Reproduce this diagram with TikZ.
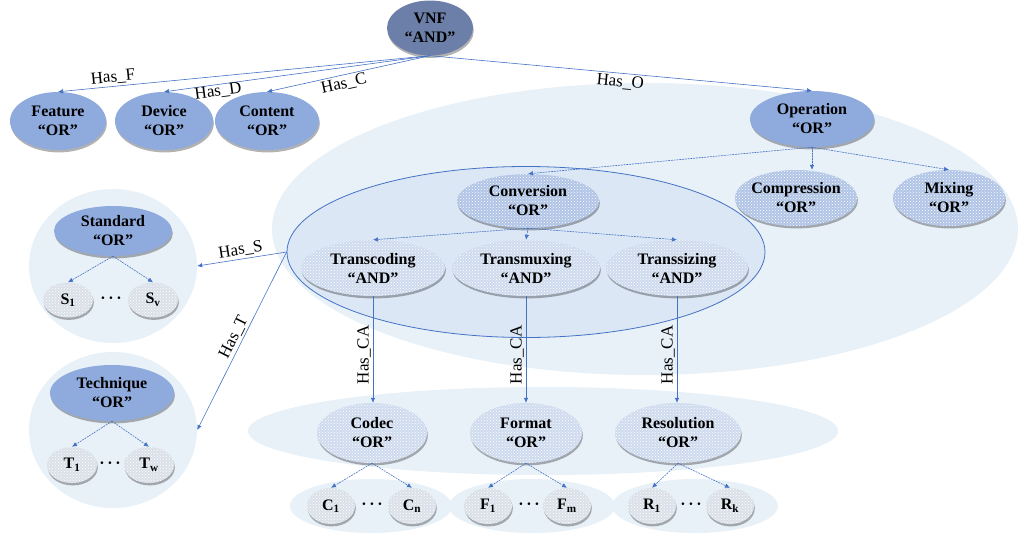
\documentclass[tikz,border=0pt]{standalone}
\usepackage{fontspec}
\setmainfont{Liberation Serif}
\usetikzlibrary{shapes.geometric,arrows.meta,shadows,patterns,positioning}

\begin{document}
\begin{tikzpicture}[x=1pt, y=-1pt, line join=round, line cap=round,
  wh/.style 2 args={minimum width=#1, minimum height=#2},
  bubble/.style={ellipse, inner sep=0pt, inner xsep=-2pt, align=center,
    font=\bfseries\fontsize{16}{19}\selectfont,
    drop shadow={shadow xshift=0.8pt, shadow yshift=-2.4pt, opacity=0.3, fill=black}},
  dotfill/.style={fill=#1, postaction={pattern=crosshatch dots, pattern color=white}},
  leaf/.style={bubble, dotfill=leafgray, wh={48}{36}},
  grp/.style={ellipse, inner sep=0pt, fill=grpblue},
  ellip/.style={font=\bfseries\fontsize{16}{19}\selectfont, inner sep=0pt},
  link/.style={draw=linkblue, line width=0.6pt, -{Latex[length=5pt,width=4.5pt]}},
  sublink/.style={link, dash pattern=on 1.6pt off 1.2pt},
  lbl/.style={font=\fontsize{17}{20}\selectfont, inner sep=2pt},
]

% ---------- colours ----------
\definecolor{linkblue}{RGB}{68,114,196}
\definecolor{vnfblue}{RGB}{108,127,168}
\definecolor{midblue}{RGB}{143,170,220}
\definecolor{grpblue}{RGB}{232,240,248}
\definecolor{convfill}{RGB}{219,231,245}
\definecolor{optblue}{RGB}{176,196,230}
\definecolor{subblue}{RGB}{206,218,238}
\definecolor{leafgray}{RGB}{218,224,233}

\useasboundingbox (0,0) rectangle (1018,536);

% ---------- groups ----------
\node[grp, wh={746}{292}] (opgrp) at (645,229) {};
\node[grp, fill=convfill, draw=linkblue, line width=0.8pt, wh={478}{171}] (convgrp) at (526,252) {};
\node[grp, wh={590}{88}] (attrgrp) at (543,431) {};
\node[grp, wh={162}{54}] (cgrp) at (371,506) {};
\node[grp, wh={166}{54}] (fgrp) at (532,506) {};
\node[grp, wh={166}{54}] (rgrp) at (695,506) {};
\node[grp, wh={168}{154}] (stdgrp) at (113,266) {};
\node[grp, wh={168}{156}] (tecgrp) at (113,430) {};

% ---------- top level ----------
\node[bubble, fill=vnfblue, wh={86}{55}] (vnf) at (430,28) {VNF\\“AND”};
\node[bubble, fill=midblue, wh={96}{58}] (feat) at (58,121) {Feature\\“OR”};
\node[bubble, fill=midblue, wh={98}{58}] (dev) at (164,121) {Device\\“OR”};
\node[bubble, fill=midblue, wh={104}{58}] (cont) at (267,121) {Content\\“OR”};
\node[bubble, fill=midblue, wh={124}{56}] (op) at (812,119) {Operation\\“OR”};

% ---------- operations ----------
\node[bubble, dotfill=optblue, wh={142}{54}] (conv) at (528,201) {Conversion\\“OR”};
\node[bubble, dotfill=optblue, wh={122}{56}] (comp) at (796,198) {Compression\\“OR”};
\node[bubble, dotfill=optblue, wh={112}{56}] (mix) at (949,198) {Mixing\\“OR”};
\node[bubble, dotfill=subblue, wh={144}{56}] (tcd) at (373,268) {Transcoding\\“AND”};
\node[bubble, dotfill=subblue, wh={148}{56}] (tmx) at (526,268) {Transmuxing\\“AND”};
\node[bubble, dotfill=subblue, wh={142}{56}] (tsz) at (677,268) {Transsizing\\“AND”};

% ---------- attributes ----------
\node[bubble, dotfill=subblue, wh={110}{60}] (codec) at (372,433) {Codec\\“OR”};
\node[bubble, dotfill=subblue, wh={112}{60}] (fmt) at (526,433) {Format\\“OR”};
\node[bubble, dotfill=subblue, wh={126}{60}] (res) at (678,433) {Resolution\\“OR”};

\node[leaf] (c1) at (331,506) {C\textsubscript{1}};
\node[leaf] (cn) at (412,506) {C\textsubscript{n}};
\node[ellip] (cdots) at (372,506) {·\,·\,·};
\node[leaf] (f1) at (488,506) {F\textsubscript{1}};
\node[leaf] (fm) at (567,506) {F\textsubscript{m}};
\node[ellip] (fdots) at (529,506) {·\,·\,·};
\node[leaf] (r1) at (652,506) {R\textsubscript{1}};
\node[leaf] (rk) at (730,506) {R\textsubscript{k}};
\node[ellip] (rdots) at (691,506) {·\,·\,·};

% ---------- standard / technique ----------
\node[bubble, fill=midblue, wh={118}{50}] (std) at (113,231) {Standard\\“OR”};
\node[leaf, wh={50}{35}] (s1) at (68,300) {S\textsubscript{1}};
\node[leaf, wh={50}{35}] (sv) at (153,300) {S\textsubscript{v}};
\node[ellip] (sdots) at (111,300) {·\,·\,·};

\node[bubble, fill=midblue, wh={124}{56}] (tec) at (112,393) {Technique\\“OR”};
\node[leaf, wh={50}{36}] (t1) at (72,465) {T\textsubscript{1}};
\node[leaf, wh={50}{36}] (tw) at (149,465) {T\textsubscript{w}};
\node[ellip] (tdots) at (110,465) {·\,·\,·};

% ---------- connectors ----------
\draw[link] (vnf.south) -- node[lbl, sloped, above, pos=.85] {Has\_F} (feat.north);
\draw[link] (vnf.south) -- node[lbl, sloped, below=-2pt, pos=.8] {Has\_D} (dev.north);
\draw[link] (vnf.south) -- node[lbl, sloped, below, pos=.54] {Has\_C} (cont.north);
\draw[link] (vnf.south) -- node[lbl, sloped, below, pos=.5] {Has\_O} (op.north);

\draw[sublink] (op.south) -- (conv.north);
\draw[sublink] (op.south) -- (op.south |- comp.north);
\draw[sublink] (op.south) -- (mix.north);
\draw[sublink] (conv.south) -- (tcd.north);
\draw[sublink] (conv.south) -- (tmx.north);
\draw[sublink] (conv.south) -- (tsz.north);

\draw[link] (convgrp.west) -- node[lbl, sloped, above, pos=.5] {Has\_S} (stdgrp.east);
\draw[link] (convgrp.west) -- node[lbl, sloped, above, pos=.5] {Has\_T} (tecgrp.east);

\draw[link] (tcd.south) -- node[lbl, rotate=90, anchor=south, pos=.55] {Has\_CA} (tcd.south |- codec.north);
\draw[link] (tmx.south) -- node[lbl, rotate=90, anchor=south, pos=.55] {Has\_CA} (tmx.south |- fmt.north);
\draw[link] (tsz.south) -- node[lbl, rotate=90, anchor=south, pos=.55] {Has\_CA} (tsz.south |- res.north);

\draw[sublink] (std.south) -- (s1.north);
\draw[sublink] (std.south) -- (sv.north);
\draw[sublink] (tec.south) -- (t1.north);
\draw[sublink] (tec.south) -- (tw.north);
\draw[sublink] (codec.south) -- (c1.north);
\draw[sublink] (codec.south) -- (cn.north);
\draw[sublink] (fmt.south) -- (f1.north);
\draw[sublink] (fmt.south) -- (fm.north);
\draw[sublink] (res.south) -- (r1.north);
\draw[sublink] (res.south) -- (rk.north);

\end{tikzpicture}
\end{document}
